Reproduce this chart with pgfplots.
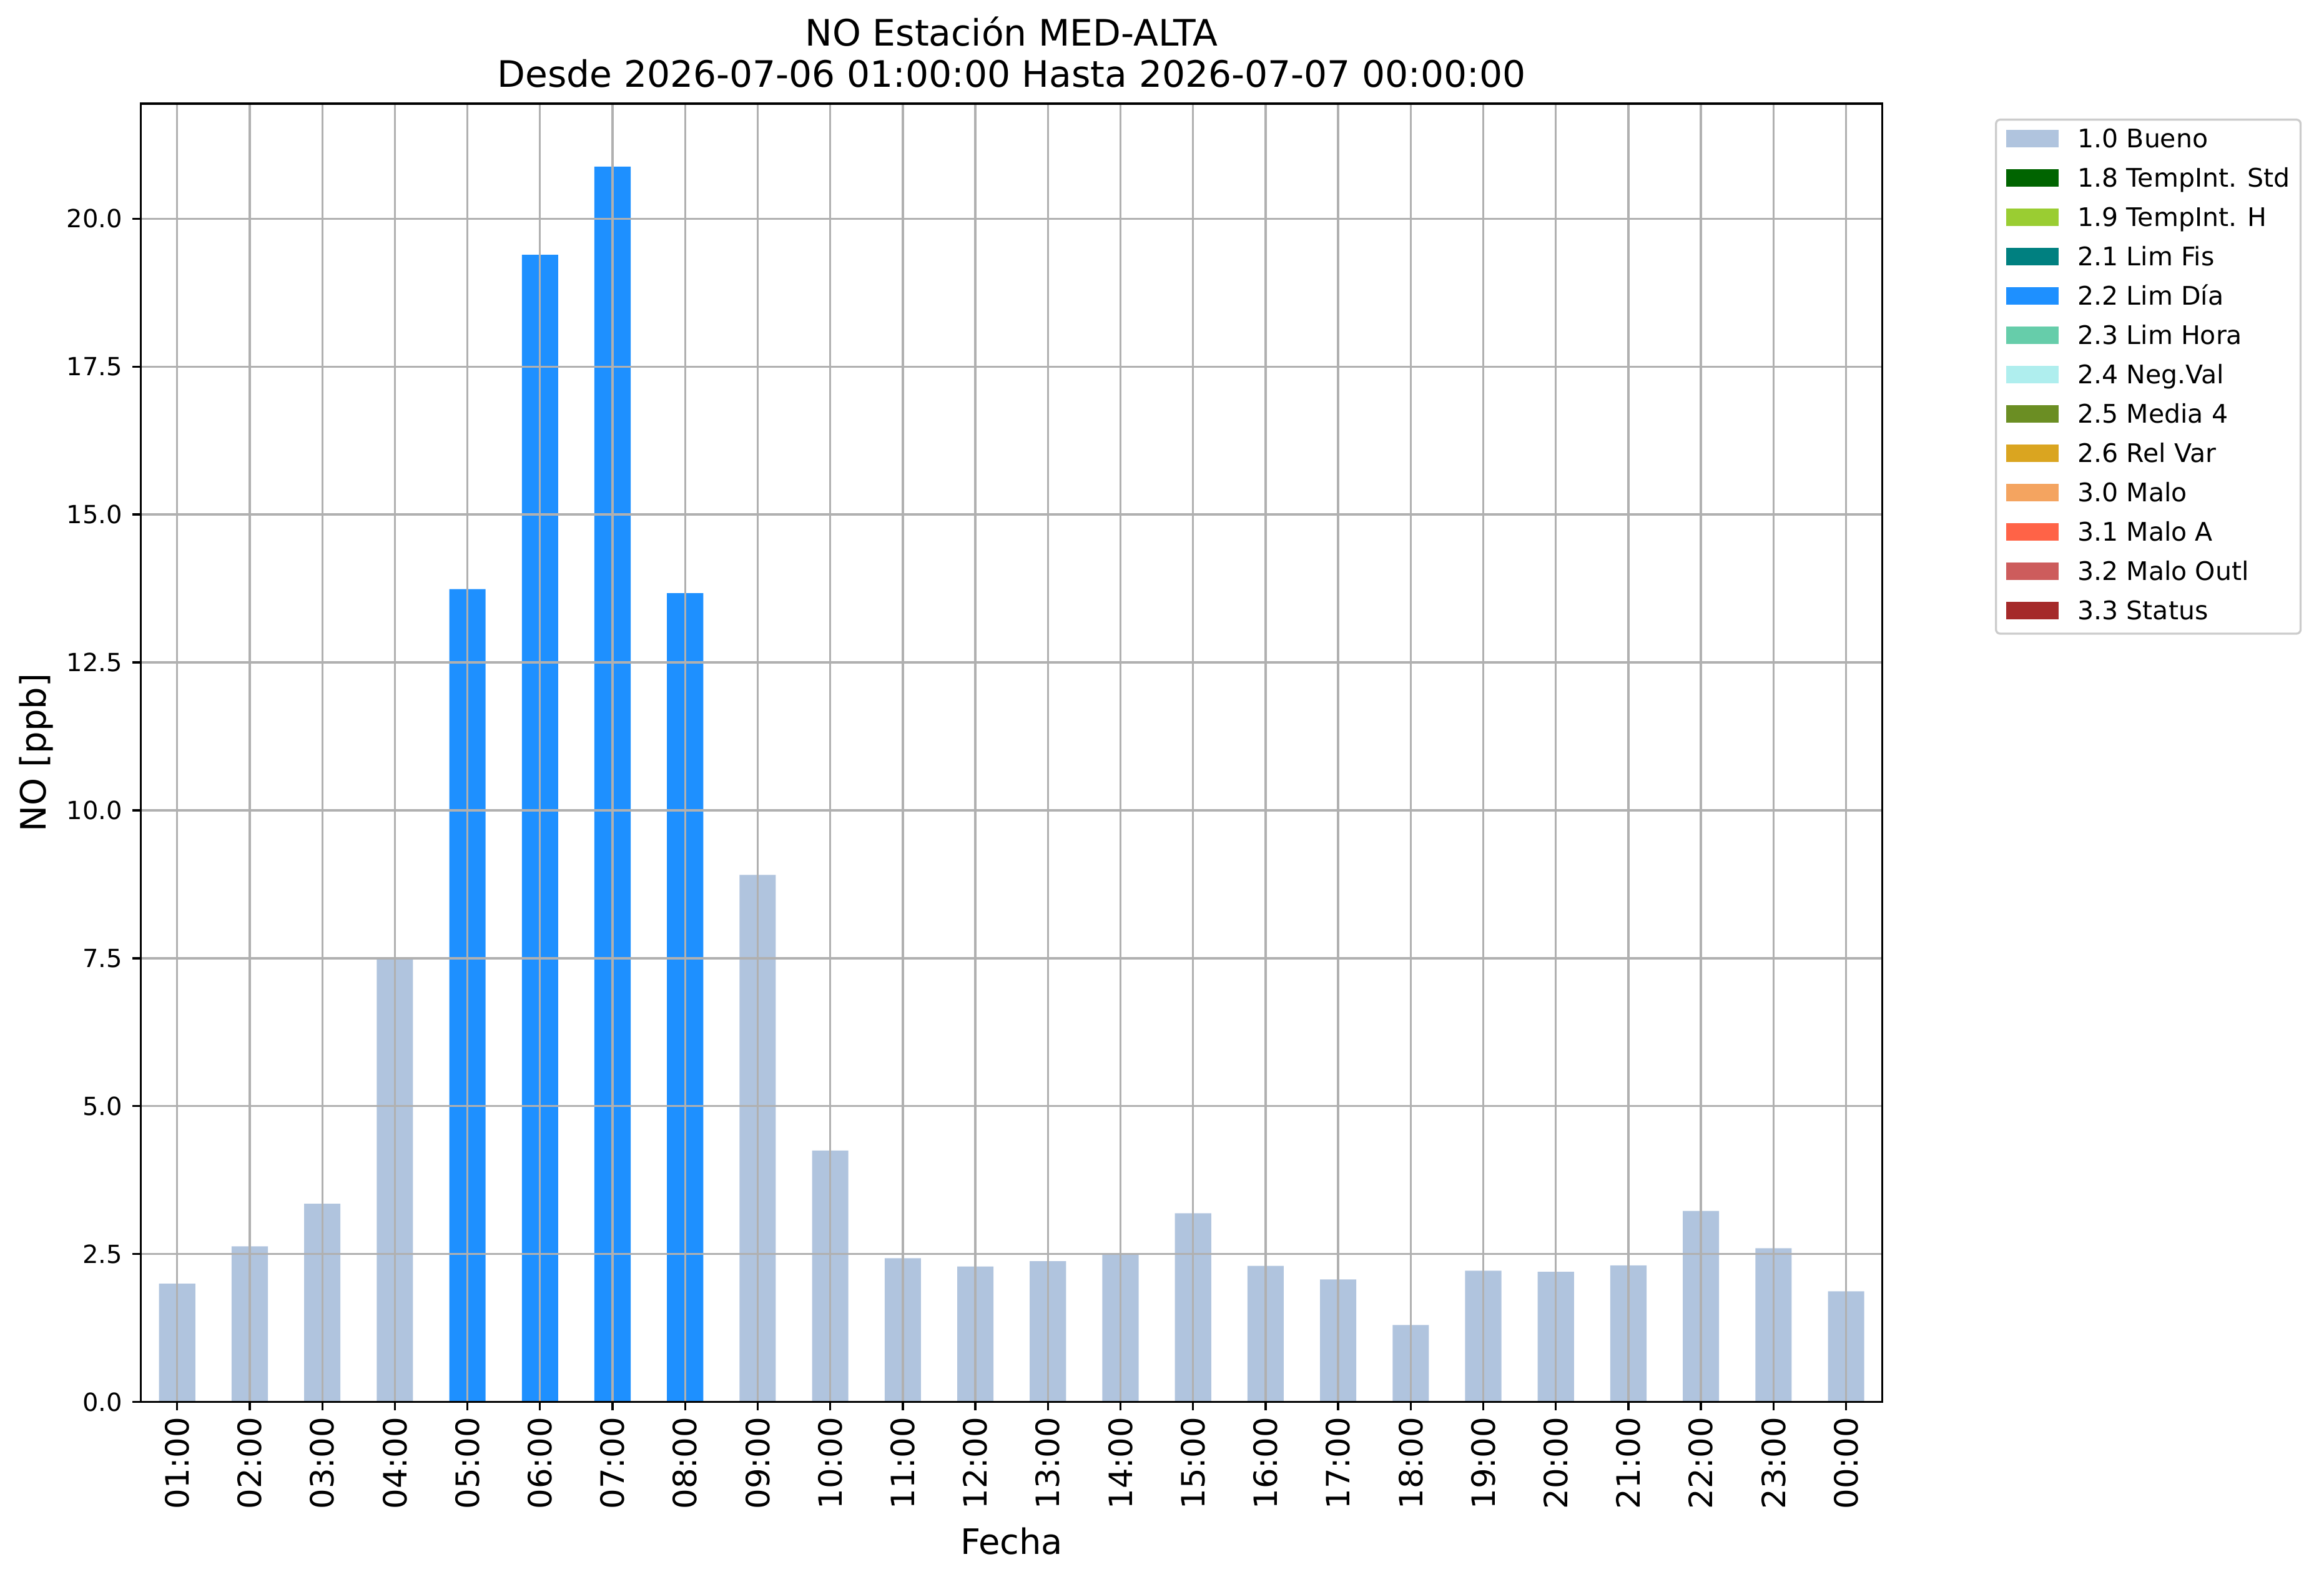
\documentclass[border=0pt]{standalone}
\usepackage{pgfplots}
\usepackage{pgfplotstable}
\pgfplotsset{compat=1.18}
\usepackage{fontspec}
\setmainfont{DejaVu Sans}

\definecolor{cBueno}{HTML}{B0C4DE}
\definecolor{cStd}{HTML}{006400}
\definecolor{cH}{HTML}{9ACD32}
\definecolor{cFis}{HTML}{008080}
\definecolor{cDia}{HTML}{1E90FF}
\definecolor{cHora}{HTML}{66CDAA}
\definecolor{cNeg}{HTML}{AFEEEE}
\definecolor{cMedia}{HTML}{6B8E23}
\definecolor{cRel}{HTML}{DAA520}
\definecolor{cMalo}{HTML}{F4A460}
\definecolor{cMaloA}{HTML}{FF6347}
\definecolor{cOutl}{HTML}{CD5C5C}
\definecolor{cStatus}{HTML}{A52A2A}
\definecolor{gridgray}{HTML}{B0B0B0}
\definecolor{leggray}{HTML}{CCCCCC}

% hora (0 = 01:00 ... 23 = 00:00), NO [ppb]
\pgfplotstableread{
x y
0 2.00
1 2.63
2 3.35
3 7.48
8 8.91
9 4.25
10 2.43
11 2.29
12 2.38
13 2.49
14 3.19
15 2.30
16 2.07
17 1.30
18 2.22
19 2.20
20 2.31
21 3.23
22 2.60
23 1.87
}\bueno

\pgfplotstableread{
x y
4 13.74
5 19.39
6 20.88
7 13.67
}\limdia

\begin{document}
\begin{tikzpicture}
\useasboundingbox (-67.7pt,-86.5pt) rectangle (1048.9pt,673.7pt);
\begin{axis}[
  scale only axis,
  width=836.7pt, height=623.9pt,
  xmin=-0.5, xmax=23.5,
  ymin=0, ymax=21.945,
  axis on top,
  axis line style={black, line width=1pt},
  tick style={black, line width=1pt},
  major tick length=4pt,
  tick align=outside,
  tick pos=left,
  grid=major,
  major grid style={gridgray, line width=1pt},
  xtick={0,...,23},
  xticklabels={01:00,02:00,03:00,04:00,05:00,06:00,07:00,08:00,09:00,10:00,11:00,12:00,
    13:00,14:00,15:00,16:00,17:00,18:00,19:00,20:00,21:00,22:00,23:00,00:00},
  xticklabel style={yshift=-3pt, rotate=90, anchor=east, inner sep=0pt, font=\fontsize{15.4}{17}\selectfont},
  ytick={0,2.5,...,20},
  yticklabel style={xshift=-4.8pt, anchor=east, inner sep=0pt, font=\fontsize{12}{14}\selectfont},
  /pgf/number format/assume math mode=true,
  yticklabel={\pgfmathprintnumber[fixed, fixed zerofill, precision=1]{\tick}},
  xlabel={Fecha},
  ylabel={NO [ppb]},
  every axis x label/.style={at={(axis description cs:0.5,0)}, anchor=north, inner sep=0pt,
    yshift=-60.2pt, font=\fontsize{16.8}{19}\selectfont},
  every axis y label/.style={at={(axis description cs:0,0.5)}, anchor=south, inner sep=0pt,
    xshift=-41.9pt, rotate=90, font=\fontsize{16.8}{19}\selectfont},
  title={NO Estación MED-ALTA\\Desde 2026-07-06 01:00:00 Hasta 2026-07-07 00:00:00},
  title style={at={(axis description cs:0.5,1)}, anchor=south, inner sep=0pt, yshift=1.4pt,
    align=center, font=\fontsize{17.5}{20}\selectfont},
  legend image code/.code={\fill[#1, draw=none, sharp corners] (0pt,-3.3pt) rectangle (25pt,5.3pt);},
  legend style={at={(axis description cs:1,1)}, anchor=north west, xshift=54.1pt, yshift=-7.2pt,
    draw=leggray, line width=1pt, rounded corners=2pt, fill=white,
    inner xsep=5pt, inner ysep=4.1pt, row sep=6.9pt, column sep=9.3pt,
    font=\fontsize{12.3}{14}\selectfont,
    nodes={inner sep=0pt, text height=9.5pt, text depth=2.5pt}},
  legend cell align=left,
]
\addplot[ybar, bar width=0.5, bar shift=0pt, fill=cBueno, draw=none, forget plot] table[x=x, y=y] {\bueno};
\addplot[ybar, bar width=0.5, bar shift=0pt, fill=cDia, draw=none, forget plot] table[x=x, y=y] {\limdia};

\addlegendimage{fill=cBueno}\addlegendentry{1.0 Bueno}
\addlegendimage{fill=cStd}\addlegendentry{1.8 TempInt. Std}
\addlegendimage{fill=cH}\addlegendentry{1.9 TempInt. H}
\addlegendimage{fill=cFis}\addlegendentry{2.1 Lim Fis}
\addlegendimage{fill=cDia}\addlegendentry{2.2 Lim Día}
\addlegendimage{fill=cHora}\addlegendentry{2.3 Lim Hora}
\addlegendimage{fill=cNeg}\addlegendentry{2.4 Neg.Val}
\addlegendimage{fill=cMedia}\addlegendentry{2.5 Media 4}
\addlegendimage{fill=cRel}\addlegendentry{2.6 Rel Var}
\addlegendimage{fill=cMalo}\addlegendentry{3.0 Malo}
\addlegendimage{fill=cMaloA}\addlegendentry{3.1 Malo A}
\addlegendimage{fill=cOutl}\addlegendentry{3.2 Malo Outl}
\addlegendimage{fill=cStatus}\addlegendentry{3.3 Status}
\end{axis}
\end{tikzpicture}
\end{document}
